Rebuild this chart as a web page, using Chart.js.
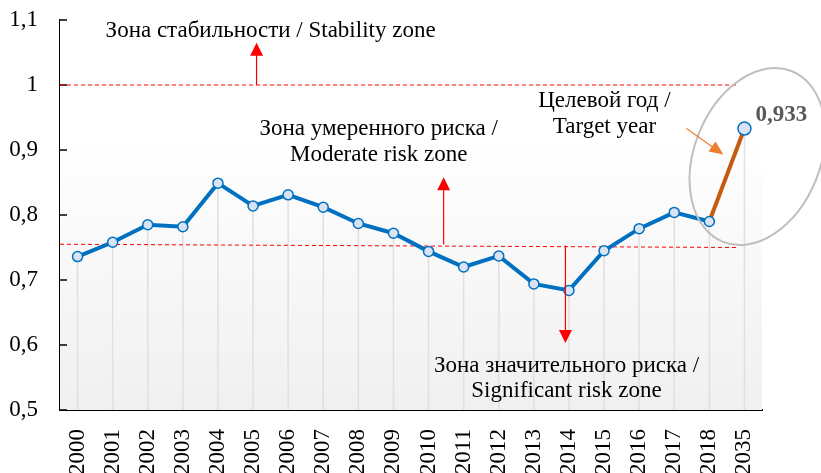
<!DOCTYPE html>
<html>
<head>
<meta charset="utf-8">
<script src="https://cdn.jsdelivr.net/npm/chart.js@4.4.1/dist/chart.umd.min.js"></script>
<style>
  html, body { margin: 0; padding: 0; background: #fff; }
  #wrap { width: 821px; height: 473px; }
</style>
</head>
<body>
<div id="wrap"><canvas id="chart" width="821" height="473"></canvas></div>
<script>
// Chart data
const years = ['2000', '2001', '2002', '2003', '2004', '2005', '2006', '2007', '2008', '2009',
               '2010', '2011', '2012', '2013', '2014', '2015', '2016', '2017', '2018', '2035'];
const indexValues = [0.736, 0.758, 0.785, 0.782, 0.849, 0.814, 0.831, 0.812, 0.787, 0.772,
                     0.744, 0.720, 0.737, 0.694, 0.684, 0.745, 0.779, 0.804, 0.790, 0.933];
const yTicks = [0.5, 0.6, 0.7, 0.8, 0.9, 1.0, 1.1];
const stabilityLevel = 1.0;
const riskLevel = [0.755, 0.750]; // left end, right end

const FONT = '"Liberation Serif", "Times New Roman", serif';
const FS = 23;

function fmt(v) {
    return String(Math.round(v * 1000) / 1000).replace('.', ',');
}

function arrow(ctx, x, y1, y2, color) {
    const dir = y2 < y1 ? 1 : -1;
    ctx.save();
    ctx.strokeStyle = color;
    ctx.fillStyle = color;
    ctx.lineWidth = 1.2;
    ctx.beginPath();
    ctx.moveTo(x, y1);
    ctx.lineTo(x, y2 + dir * 12);
    ctx.stroke();
    ctx.beginPath();
    ctx.moveTo(x, y2);
    ctx.lineTo(x - 6.5, y2 + dir * 13);
    ctx.lineTo(x + 6.5, y2 + dir * 13);
    ctx.closePath();
    ctx.fill();
    ctx.restore();
}

// background, drop lines and dashed zone borders
const backPlugin = {
    id: 'back',
    beforeDatasetsDraw(chart) {
        const { ctx, chartArea: a, scales: { x, y } } = chart;
        ctx.save();
        const g = ctx.createLinearGradient(0, a.top, 0, a.bottom);
        g.addColorStop(0, '#ffffff');
        g.addColorStop(0.3, '#ffffff');
        g.addColorStop(1, '#f0f0f0');
        ctx.fillStyle = g;
        ctx.fillRect(a.left, a.top, a.right - a.left, a.bottom - a.top);

        // drop lines
        const meta = chart.getDatasetMeta(0);
        ctx.strokeStyle = '#e0e0e0';
        ctx.lineWidth = 1.5;
        meta.data.forEach(p => {
            ctx.beginPath();
            ctx.moveTo(p.x, p.y);
            ctx.lineTo(p.x, a.bottom);
            ctx.stroke();
        });

        // inner tick marks on the y axis
        ctx.strokeStyle = '#000';
        ctx.lineWidth = 1.5;
        yTicks.forEach(v => {
            const ty = y.getPixelForValue(v);
            ctx.beginPath();
            ctx.moveTo(a.left, ty);
            ctx.lineTo(a.left + 7, ty);
            ctx.stroke();
        });

        // dashed lines
        ctx.strokeStyle = '#ff0000';
        ctx.lineWidth = 1;
        ctx.setLineDash([4, 3]);
        const xEnd = x.getPixelForValue(years.length - 1) - 6;
        ctx.beginPath();
        ctx.moveTo(a.left, y.getPixelForValue(stabilityLevel));
        ctx.lineTo(xEnd, y.getPixelForValue(stabilityLevel));
        ctx.stroke();
        ctx.beginPath();
        ctx.moveTo(a.left, y.getPixelForValue(riskLevel[0]));
        ctx.lineTo(xEnd, y.getPixelForValue(riskLevel[1]));
        ctx.stroke();
        ctx.setLineDash([]);
        ctx.restore();
    },
    afterDatasetsDraw(chart) {
        const { ctx, scales: { x, y } } = chart;
        ctx.save();
        const red = '#ff0000';
        arrow(ctx, x.getPixelForValue(5.1), y.getPixelForValue(1.0), y.getPixelForValue(1.065), red);
        arrow(ctx, x.getPixelForValue(10.43), y.getPixelForValue(0.7545), y.getPixelForValue(0.858), red);
        arrow(ctx, x.getPixelForValue(13.9), y.getPixelForValue(0.753), y.getPixelForValue(0.603), red);

        ctx.fillStyle = '#000';
        ctx.font = FS + 'px ' + FONT;
        ctx.textAlign = 'center';
        ctx.textBaseline = 'middle';
        ctx.fillText('Зона стабильности / Stability zone', x.getPixelForValue(5.5), y.getPixelForValue(1.083));
        ctx.fillText('Зона умеренного риска /', x.getPixelForValue(8.58), y.getPixelForValue(0.932));
        ctx.fillText('Moderate risk zone', x.getPixelForValue(8.58), y.getPixelForValue(0.892));
        ctx.fillText('Целевой год /', x.getPixelForValue(15.01), y.getPixelForValue(0.975));
        ctx.fillText('Target year', x.getPixelForValue(15.01), y.getPixelForValue(0.935));
        ctx.fillText('Зона значительного риска /', x.getPixelForValue(13.93), y.getPixelForValue(0.568));
        ctx.fillText('Significant risk zone', x.getPixelForValue(13.93), y.getPixelForValue(0.529));

        // target point label
        const last = years.length - 1;
        const px = x.getPixelForValue(last);
        const py = y.getPixelForValue(indexValues[last]);
        ctx.fillStyle = '#595959';
        ctx.font = 'bold ' + FS + 'px ' + FONT;
        ctx.textAlign = 'left';
        ctx.fillText(fmt(indexValues[last]), px + 11, py - 13);

        // ellipse round the target year
        ctx.strokeStyle = '#bfbfbf';
        ctx.lineWidth = 2;
        ctx.beginPath();
        ctx.ellipse(px + 13, py + 28, 63, 92, 22 * Math.PI / 180, 0, Math.PI * 2);
        ctx.stroke();

        // orange arrow
        const ax1 = px - 58, ay1 = py, ax2 = px - 21, ay2 = py + 26;
        const ang = Math.atan2(ay2 - ay1, ax2 - ax1);
        ctx.strokeStyle = '#ed7d31';
        ctx.fillStyle = '#ed7d31';
        ctx.lineWidth = 1.2;
        ctx.beginPath();
        ctx.moveTo(ax1, ay1);
        ctx.lineTo(ax2 - 12 * Math.cos(ang), ay2 - 12 * Math.sin(ang));
        ctx.stroke();
        ctx.beginPath();
        ctx.moveTo(ax2, ay2);
        ctx.lineTo(ax2 - 14 * Math.cos(ang) + 6 * Math.sin(ang), ay2 - 14 * Math.sin(ang) - 6 * Math.cos(ang));
        ctx.lineTo(ax2 - 14 * Math.cos(ang) - 6 * Math.sin(ang), ay2 - 14 * Math.sin(ang) + 6 * Math.cos(ang));
        ctx.closePath();
        ctx.fill();
        ctx.restore();
    }
};

const ctx = document.getElementById('chart').getContext('2d');
const chart = new Chart(ctx, {
    type: 'line',
    data: {
        labels: years,
        datasets: [{
            data: indexValues,
            borderColor: '#0070c0',
            borderWidth: 4,
            tension: 0,
            segment: {
                borderColor: c => c.p1DataIndex === years.length - 1 ? '#c55a11' : '#0070c0'
            },
            pointBackgroundColor: '#dae3f3',
            pointBorderColor: '#0070c0',
            pointBorderWidth: 1.5,
            pointRadius: indexValues.map((v, i) => i === years.length - 1 ? 6.5 : 5),
            clip: false
        }]
    },
    options: {
        responsive: false,
        animation: false,
        events: [],
        layout: { padding: { top: 20, right: 59, left: 0, bottom: 0 } },
        plugins: {
            legend: { display: false },
            tooltip: { enabled: false }
        },
        scales: {
            x: {
                offset: true,
                grid: { display: false },
                border: { display: true, color: '#000', width: 2 },
                ticks: {
                    color: '#000',
                    font: { family: FONT, size: FS },
                    minRotation: 90,
                    maxRotation: 90,
                    padding: 11,
                    autoSkip: false
                },
                afterFit(s) { s.height = 63; s.paddingLeft = 0; s.paddingRight = 0; }
            },
            y: {
                min: 0.5,
                max: 1.1,
                afterBuildTicks(s) { s.ticks = yTicks.map(v => ({ value: v })); },
                grid: { drawOnChartArea: false, drawTicks: false },
                border: { display: true, color: '#000', width: 1.5 },
                ticks: {
                    color: '#000',
                    font: { family: FONT, size: FS },
                    padding: 22,
                    callback: v => fmt(v)
                },
                afterFit(s) { s.width = 60; s.paddingTop = 0; s.paddingBottom = 0; }
            }
        }
    },
    plugins: [backPlugin]
});
</script>
</body>
</html>
